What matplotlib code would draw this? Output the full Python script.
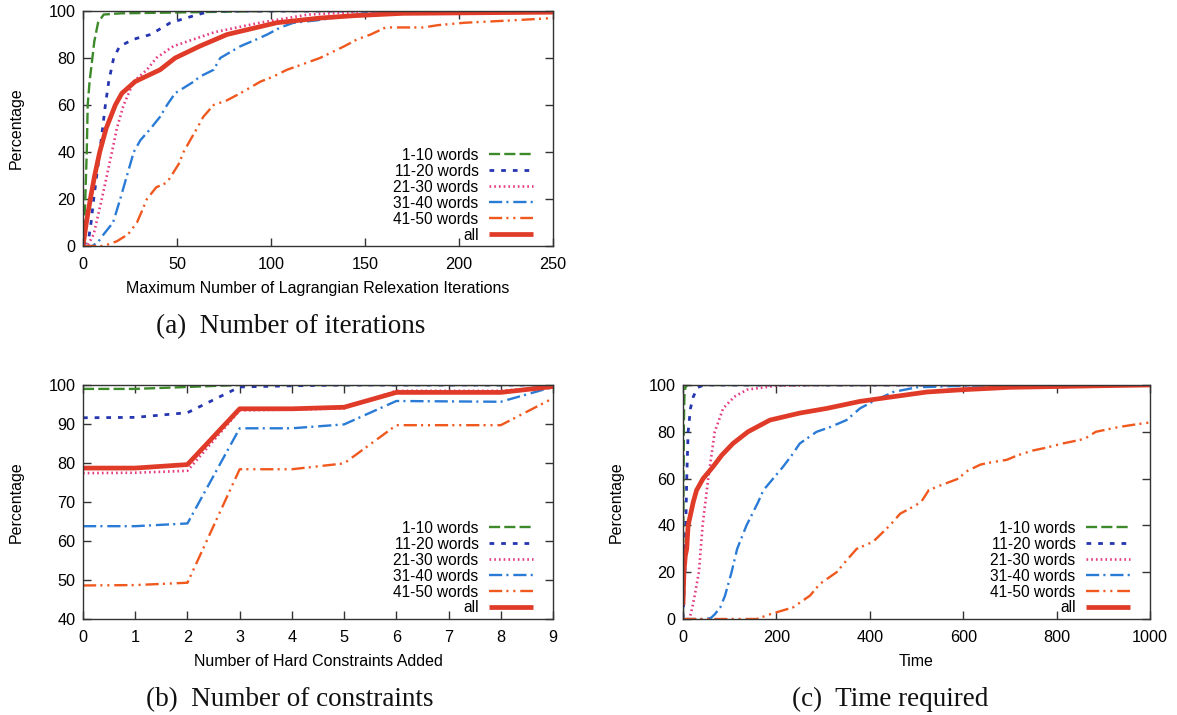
import matplotlib
matplotlib.use("Agg")
import matplotlib.pyplot as plt

# ---------------- data ----------------
labels = ["1-10 words", "11-20 words", "21-30 words", "31-40 words", "41-50 words", "all"]

# (a) iterations
a_x_1_10 = [0, 1, 2, 2.5, 3.5, 5, 6, 8, 11, 20, 60, 100, 250]
a_y_1_10 = [0, 15, 40, 60, 70, 80, 87, 95, 98.5, 99, 99.5, 100, 100]
a_x_11_20 = [0, 3, 4.3, 5.7, 8.9, 11.9, 13.7, 16.3, 19.5, 27, 36, 46.5, 59, 68, 250]
a_y_11_20 = [0, 3, 10, 20, 40, 60, 70, 80, 85, 88, 90, 95, 98, 100, 100]
a_x_21_30 = [0, 3, 5.7, 10, 15.4, 18, 21.6, 27, 34, 39, 48, 59, 70, 94, 120, 150, 250]
a_y_21_30 = [0, 1, 5, 20, 40, 50, 60, 70, 75, 80, 85, 88, 91, 95, 98.5, 99.7, 100]
a_x_31_40 = [0, 5, 8.3, 11, 16, 19.8, 23.4, 27, 30.5, 36, 41, 44.7, 49, 59, 62, 69.5, 73,
             83.7, 92.5, 98, 105, 112, 124, 150, 200, 250]
a_y_31_40 = [0, 0, 2, 5, 10, 20, 30, 40, 45, 50, 55, 60, 65, 70, 72, 75, 80,
             85, 88, 90, 93, 95, 96, 99, 99.5, 100]
a_x_41_50 = [0, 11, 18, 24, 28.7, 31.4, 34, 39, 44.7, 51, 53.5, 57, 60.6, 64, 69.5, 76.6,
             83.7, 94.5, 101, 108.5, 115.6, 126, 139, 146, 153, 161, 181, 189, 203, 228, 250]
a_y_41_50 = [0, 0, 2, 5, 10, 15, 20, 25, 27, 35, 40, 45, 50, 55, 60, 62,
             65, 70, 72, 75, 77, 80, 85, 88, 90, 93, 93, 94, 95, 96, 97]
a_x_all = [0, 1.8, 3.9, 6.2, 8.9, 12.3, 17.2, 20.7, 27.8, 41, 49, 62, 76.6, 103, 126, 144, 170, 250]
a_y_all = [0, 10, 20, 30, 40, 50, 60, 65, 70, 75, 80, 85, 90, 95, 97, 98, 99, 99.5]

# (b) constraints
b_x = [0, 1, 2, 3, 4, 5, 6, 7, 8, 9]
b_y_1_10 = [99.0, 99.0, 99.5, 100, 100, 100, 100, 100, 100, 100]
b_y_11_20 = [91.6, 91.7, 92.9, 99.5, 99.8, 100, 100, 100, 100, 100]
b_y_21_30 = [77.4, 77.5, 78.0, 93.5, 93.7, 94.0, 98.5, 98.5, 98.5, 99.5]
b_y_31_40 = [63.8, 63.8, 64.5, 88.9, 88.9, 89.9, 95.9, 95.8, 95.7, 99.5]
b_y_41_50 = [48.6, 48.7, 49.3, 78.4, 78.4, 79.9, 89.7, 89.7, 89.7, 96.6]
b_y_all = [78.7, 78.7, 79.6, 93.9, 93.9, 94.3, 98.1, 98.1, 98.1, 99.6]

# (c) time
c_x_1_10 = [0, 1, 2, 3, 5, 10, 1000]
c_y_1_10 = [0, 55, 85, 95, 99, 100, 100]
c_x_11_20 = [0, 2, 4, 6, 8, 11, 16, 22, 32, 45, 1000]
c_y_11_20 = [0, 10, 20, 40, 60, 80, 90, 95, 99, 100, 100]
c_x_21_30 = [0, 12, 15, 20, 25, 34, 42, 54, 68, 86, 110, 137, 200, 300, 1000]
c_y_21_30 = [0, 0, 1, 5, 10, 20, 40, 60, 80, 90, 95, 98, 99.7, 100, 100]
c_x_31_40 = [0, 50, 60, 68, 80, 90, 104, 116, 136, 161, 172, 193, 214, 233, 250, 286, 315,
             350, 379, 407, 450, 500, 600, 1000]
c_y_31_40 = [0, 0, 0.5, 2, 5, 10, 20, 30, 40, 50, 55, 60, 65, 70, 75, 80, 82,
             85, 90, 93, 97, 99, 99.7, 100]
c_x_41_50 = [0, 158, 186, 236, 272, 293, 329, 350, 372, 407, 443, 465, 493, 510, 526, 550,
             590, 606, 637, 661, 693, 717, 749, 773, 813, 837, 860, 884, 932, 964, 1000]
c_y_41_50 = [0, 0, 2, 5, 10, 15, 20, 25, 30, 33, 40, 45, 48, 50, 55, 57,
             60, 63, 66, 67, 68, 70, 72, 73, 75, 76, 77, 80, 82, 83, 84]
c_x_all = [0, 2, 5, 8, 11, 22, 29, 43, 64, 83, 107, 139, 186, 250, 308, 379, 450, 522,
           600, 700, 900, 1000]
c_y_all = [6, 20, 27, 30, 40, 50, 55, 60, 65, 70, 75, 80, 85, 88, 90, 93, 95, 97,
           98, 99, 99.7, 100]

a_xticks = [0, 50, 100, 150, 200, 250]
a_yticks = [0, 20, 40, 60, 80, 100]
b_yticks = [40, 50, 60, 70, 80, 90, 100]
c_xticks = [0, 200, 400, 600, 800, 1000]

# ---------------- styles ----------------
plt.rcParams['lines.scale_dashes'] = False
plt.rcParams['font.family'] = ['Liberation Sans', 'DejaVu Sans']

styles = [
    dict(color='#3d8a2a', lw=1.7, dashes=(8, 3)),
    dict(color='#2536b0', lw=2.0, dashes=(3.4, 5)),
    dict(color='#e63a82', lw=1.9, dashes=(1.2, 2.2)),
    dict(color='#2a7bd6', lw=1.7, dashes=(9.5, 3, 1.5, 3.5)),
    dict(color='#f0581e', lw=1.7, dashes=(9.5, 3, 1.5, 3.5, 1.5, 3.5)),
    dict(color='#e03a28', lw=3.4, dashes=None),
]

W, H = 1177, 715
fig = plt.figure(figsize=(W / 100, H / 100), dpi=100)


def rect(l, t, r, b):
    return [l / W, 1 - b / H, (r - l) / W, (b - t) / H]


def style_axes(ax):
    for s in ax.spines.values():
        s.set_linewidth(1.0)
        s.set_color('#333333')
    ax.tick_params(direction='in', top=True, right=True, length=6, width=1,
                   color='#333333', labelsize=11.7)
    ax.tick_params(axis='y', pad=5.5)
    ax.tick_params(axis='x', pad=8.2)


def plot_series(ax, series):
    for (x, y), lab, st in zip(series, labels, styles):
        ln, = ax.plot(x, y, color=st['color'], lw=st['lw'], label=lab,
                      solid_capstyle='butt', dash_capstyle='butt')
        if st['dashes'] is not None:
            ln.set_dashes(st['dashes'])


def add_legend(ax):
    bb = ax.get_position()
    axw = bb.width * W
    axh = bb.height * H
    ax.legend(loc='lower right', bbox_to_anchor=(1 - 20 / axw, 3.5 / axh),
              frameon=False, markerfirst=False, fontsize=11.2,
              handlelength=2.85, handletextpad=0.65, labelspacing=0.06,
              borderpad=0, borderaxespad=0)


def labels_for(ax, xlabel):
    bb = ax.get_position()
    axw = bb.width * W
    axh = bb.height * H
    ax.set_xlabel(xlabel, fontsize=11.5)
    ax.xaxis.set_label_coords(0.5, -35.5 / axh)
    ax.set_ylabel('Percentage', fontsize=11.5)
    ax.yaxis.set_label_coords(-59.5 / axw, 0.5)


# (a)
ax1 = fig.add_axes(rect(83, 11, 553, 246))
plot_series(ax1, [(a_x_1_10, a_y_1_10), (a_x_11_20, a_y_11_20), (a_x_21_30, a_y_21_30),
                  (a_x_31_40, a_y_31_40), (a_x_41_50, a_y_41_50), (a_x_all, a_y_all)])
ax1.set_xlim(0, 250)
ax1.set_ylim(0, 100)
ax1.set_xticks(a_xticks)
ax1.set_yticks(a_yticks)
style_axes(ax1)
labels_for(ax1, 'Maximum Number of Lagrangian Relexation Iterations')
add_legend(ax1)

# (b)
ax2 = fig.add_axes(rect(83, 385, 553, 619))
plot_series(ax2, [(b_x, b_y_1_10), (b_x, b_y_11_20), (b_x, b_y_21_30),
                  (b_x, b_y_31_40), (b_x, b_y_41_50), (b_x, b_y_all)])
ax2.set_xlim(0, 9)
ax2.set_ylim(40, 100)
ax2.set_xticks(b_x)
ax2.set_yticks(b_yticks)
style_axes(ax2)
labels_for(ax2, 'Number of Hard Constraints Added')
add_legend(ax2)

# (c)
ax3 = fig.add_axes(rect(683, 385, 1150, 619))
plot_series(ax3, [(c_x_1_10, c_y_1_10), (c_x_11_20, c_y_11_20), (c_x_21_30, c_y_21_30),
                  (c_x_31_40, c_y_31_40), (c_x_41_50, c_y_41_50), (c_x_all, c_y_all)])
ax3.set_xlim(0, 1000)
ax3.set_ylim(0, 100)
ax3.set_xticks(c_xticks)
ax3.set_yticks(a_yticks)
style_axes(ax3)
labels_for(ax3, 'Time')
add_legend(ax3)

# captions
cap_kw = dict(family=['Liberation Serif', 'DejaVu Serif'], fontsize=19.5,
              ha='center', va='baseline', color='#111111')
fig.text(291 / W, 1 - 333 / H, '(a)  Number of iterations', **cap_kw)
fig.text(289.5 / W, 1 - 706 / H, '(b)  Number of constraints', **cap_kw)
fig.text(890 / W, 1 - 706 / H, '(c)  Time required', **cap_kw)

fig.savefig('out.png', dpi=100)
